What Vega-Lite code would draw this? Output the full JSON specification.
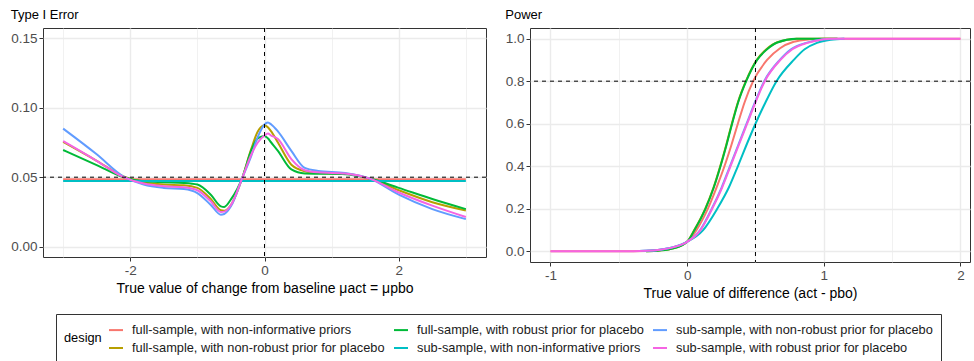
{
"$schema": "https://vega.github.io/schema/vega-lite/v6.json",
"padding": {"left": 10, "top": 8, "right": 0, "bottom": 0},
"config": {
  "font": "Liberation Sans",
  "view": {"stroke": "#333333", "strokeWidth": 1},
  "axis": {"labelFontSize": 13.5, "labelColor": "#4D4D4D", "titleFontSize": 14, "titleFontWeight": "normal", "titleColor": "#000000", "tickColor": "#333333", "tickSize": 4, "domain": false, "gridColor": "#EBEBEB", "labelPadding": 2, "titlePadding": 5, "labelFlush": false, "labelOverlap": false},
  "title": {"fontSize": 13, "fontWeight": "normal", "anchor": "start", "offset": 6, "color": "#000000"},
  "line": {"strokeWidth": 2, "interpolate": "monotone"}
},
"datasets": {
  "t1": [
    {"design": "full-sample, with non-informative priors", "x": -3, "y": 0.0485},
    {"design": "full-sample, with non-informative priors", "x": 3, "y": 0.0485},
    {"design": "full-sample, with non-robust prior for placebo", "x": -3, "y": 0.0754},
    {"design": "full-sample, with non-robust prior for placebo", "x": -2.5, "y": 0.0618},
    {"design": "full-sample, with non-robust prior for placebo", "x": -2.1, "y": 0.0505},
    {"design": "full-sample, with non-robust prior for placebo", "x": -1.8, "y": 0.0464},
    {"design": "full-sample, with non-robust prior for placebo", "x": -1.5, "y": 0.0447},
    {"design": "full-sample, with non-robust prior for placebo", "x": -1.2, "y": 0.0442},
    {"design": "full-sample, with non-robust prior for placebo", "x": -1, "y": 0.0423},
    {"design": "full-sample, with non-robust prior for placebo", "x": -0.8, "y": 0.0343},
    {"design": "full-sample, with non-robust prior for placebo", "x": -0.65, "y": 0.0262},
    {"design": "full-sample, with non-robust prior for placebo", "x": -0.6, "y": 0.0259},
    {"design": "full-sample, with non-robust prior for placebo", "x": -0.5, "y": 0.030},
    {"design": "full-sample, with non-robust prior for placebo", "x": -0.33, "y": 0.0497},
    {"design": "full-sample, with non-robust prior for placebo", "x": -0.2, "y": 0.070},
    {"design": "full-sample, with non-robust prior for placebo", "x": -0.1, "y": 0.083},
    {"design": "full-sample, with non-robust prior for placebo", "x": 0, "y": 0.0875},
    {"design": "full-sample, with non-robust prior for placebo", "x": 0.05, "y": 0.086},
    {"design": "full-sample, with non-robust prior for placebo", "x": 0.1, "y": 0.083},
    {"design": "full-sample, with non-robust prior for placebo", "x": 0.2, "y": 0.075},
    {"design": "full-sample, with non-robust prior for placebo", "x": 0.4, "y": 0.059},
    {"design": "full-sample, with non-robust prior for placebo", "x": 0.6, "y": 0.0543},
    {"design": "full-sample, with non-robust prior for placebo", "x": 0.8, "y": 0.053},
    {"design": "full-sample, with non-robust prior for placebo", "x": 1.2, "y": 0.0525},
    {"design": "full-sample, with non-robust prior for placebo", "x": 1.57, "y": 0.049},
    {"design": "full-sample, with non-robust prior for placebo", "x": 2, "y": 0.0406},
    {"design": "full-sample, with non-robust prior for placebo", "x": 2.5, "y": 0.032},
    {"design": "full-sample, with non-robust prior for placebo", "x": 3, "y": 0.026},
    {"design": "full-sample, with robust prior for placebo", "x": -3, "y": 0.0696},
    {"design": "full-sample, with robust prior for placebo", "x": -2.5, "y": 0.0587},
    {"design": "full-sample, with robust prior for placebo", "x": -2.1, "y": 0.050},
    {"design": "full-sample, with robust prior for placebo", "x": -1.8, "y": 0.047},
    {"design": "full-sample, with robust prior for placebo", "x": -1.5, "y": 0.0464},
    {"design": "full-sample, with robust prior for placebo", "x": -1.2, "y": 0.0459},
    {"design": "full-sample, with robust prior for placebo", "x": -1, "y": 0.0447},
    {"design": "full-sample, with robust prior for placebo", "x": -0.8, "y": 0.0374},
    {"design": "full-sample, with robust prior for placebo", "x": -0.65, "y": 0.029},
    {"design": "full-sample, with robust prior for placebo", "x": -0.6, "y": 0.0286},
    {"design": "full-sample, with robust prior for placebo", "x": -0.5, "y": 0.034},
    {"design": "full-sample, with robust prior for placebo", "x": -0.33, "y": 0.0497},
    {"design": "full-sample, with robust prior for placebo", "x": -0.2, "y": 0.069},
    {"design": "full-sample, with robust prior for placebo", "x": -0.1, "y": 0.078},
    {"design": "full-sample, with robust prior for placebo", "x": 0, "y": 0.0797},
    {"design": "full-sample, with robust prior for placebo", "x": 0.05, "y": 0.078},
    {"design": "full-sample, with robust prior for placebo", "x": 0.1, "y": 0.075},
    {"design": "full-sample, with robust prior for placebo", "x": 0.2, "y": 0.069},
    {"design": "full-sample, with robust prior for placebo", "x": 0.4, "y": 0.0556},
    {"design": "full-sample, with robust prior for placebo", "x": 0.6, "y": 0.0527},
    {"design": "full-sample, with robust prior for placebo", "x": 0.8, "y": 0.0525},
    {"design": "full-sample, with robust prior for placebo", "x": 1.2, "y": 0.0522},
    {"design": "full-sample, with robust prior for placebo", "x": 1.57, "y": 0.049},
    {"design": "full-sample, with robust prior for placebo", "x": 2, "y": 0.0423},
    {"design": "full-sample, with robust prior for placebo", "x": 2.5, "y": 0.0343},
    {"design": "full-sample, with robust prior for placebo", "x": 3, "y": 0.027},
    {"design": "sub-sample, with non-informative priors", "x": -3, "y": 0.0472},
    {"design": "sub-sample, with non-informative priors", "x": 3, "y": 0.0472},
    {"design": "sub-sample, with non-robust prior for placebo", "x": -3, "y": 0.085},
    {"design": "sub-sample, with non-robust prior for placebo", "x": -2.5, "y": 0.0665},
    {"design": "sub-sample, with non-robust prior for placebo", "x": -2.1, "y": 0.0505},
    {"design": "sub-sample, with non-robust prior for placebo", "x": -1.8, "y": 0.0447},
    {"design": "sub-sample, with non-robust prior for placebo", "x": -1.5, "y": 0.0423},
    {"design": "sub-sample, with non-robust prior for placebo", "x": -1.2, "y": 0.0415},
    {"design": "sub-sample, with non-robust prior for placebo", "x": -1, "y": 0.0386},
    {"design": "sub-sample, with non-robust prior for placebo", "x": -0.8, "y": 0.030},
    {"design": "sub-sample, with non-robust prior for placebo", "x": -0.65, "y": 0.023},
    {"design": "sub-sample, with non-robust prior for placebo", "x": -0.6, "y": 0.0235},
    {"design": "sub-sample, with non-robust prior for placebo", "x": -0.5, "y": 0.029},
    {"design": "sub-sample, with non-robust prior for placebo", "x": -0.33, "y": 0.0496},
    {"design": "sub-sample, with non-robust prior for placebo", "x": -0.2, "y": 0.065},
    {"design": "sub-sample, with non-robust prior for placebo", "x": -0.1, "y": 0.079},
    {"design": "sub-sample, with non-robust prior for placebo", "x": 0, "y": 0.088},
    {"design": "sub-sample, with non-robust prior for placebo", "x": 0.05, "y": 0.0894},
    {"design": "sub-sample, with non-robust prior for placebo", "x": 0.1, "y": 0.088},
    {"design": "sub-sample, with non-robust prior for placebo", "x": 0.2, "y": 0.083},
    {"design": "sub-sample, with non-robust prior for placebo", "x": 0.4, "y": 0.069},
    {"design": "sub-sample, with non-robust prior for placebo", "x": 0.6, "y": 0.0567},
    {"design": "sub-sample, with non-robust prior for placebo", "x": 0.8, "y": 0.0545},
    {"design": "sub-sample, with non-robust prior for placebo", "x": 1.2, "y": 0.053},
    {"design": "sub-sample, with non-robust prior for placebo", "x": 1.57, "y": 0.049},
    {"design": "sub-sample, with non-robust prior for placebo", "x": 2, "y": 0.0374},
    {"design": "sub-sample, with non-robust prior for placebo", "x": 2.5, "y": 0.027},
    {"design": "sub-sample, with non-robust prior for placebo", "x": 3, "y": 0.0198},
    {"design": "sub-sample, with robust prior for placebo", "x": -3, "y": 0.076},
    {"design": "sub-sample, with robust prior for placebo", "x": -2.5, "y": 0.0618},
    {"design": "sub-sample, with robust prior for placebo", "x": -2.1, "y": 0.050},
    {"design": "sub-sample, with robust prior for placebo", "x": -1.8, "y": 0.0454},
    {"design": "sub-sample, with robust prior for placebo", "x": -1.5, "y": 0.0435},
    {"design": "sub-sample, with robust prior for placebo", "x": -1.2, "y": 0.0428},
    {"design": "sub-sample, with robust prior for placebo", "x": -1, "y": 0.0406},
    {"design": "sub-sample, with robust prior for placebo", "x": -0.8, "y": 0.0326},
    {"design": "sub-sample, with robust prior for placebo", "x": -0.65, "y": 0.0249},
    {"design": "sub-sample, with robust prior for placebo", "x": -0.6, "y": 0.0252},
    {"design": "sub-sample, with robust prior for placebo", "x": -0.5, "y": 0.030},
    {"design": "sub-sample, with robust prior for placebo", "x": -0.33, "y": 0.0496},
    {"design": "sub-sample, with robust prior for placebo", "x": -0.2, "y": 0.066},
    {"design": "sub-sample, with robust prior for placebo", "x": -0.1, "y": 0.075},
    {"design": "sub-sample, with robust prior for placebo", "x": 0, "y": 0.080},
    {"design": "sub-sample, with robust prior for placebo", "x": 0.05, "y": 0.0814},
    {"design": "sub-sample, with robust prior for placebo", "x": 0.1, "y": 0.080},
    {"design": "sub-sample, with robust prior for placebo", "x": 0.2, "y": 0.0775},
    {"design": "sub-sample, with robust prior for placebo", "x": 0.4, "y": 0.063},
    {"design": "sub-sample, with robust prior for placebo", "x": 0.6, "y": 0.055},
    {"design": "sub-sample, with robust prior for placebo", "x": 0.8, "y": 0.0535},
    {"design": "sub-sample, with robust prior for placebo", "x": 1.2, "y": 0.0527},
    {"design": "sub-sample, with robust prior for placebo", "x": 1.57, "y": 0.049},
    {"design": "sub-sample, with robust prior for placebo", "x": 2, "y": 0.039},
    {"design": "sub-sample, with robust prior for placebo", "x": 2.5, "y": 0.0295},
    {"design": "sub-sample, with robust prior for placebo", "x": 3, "y": 0.0213}
  ],
  "pw": [
    {"design": "full-sample, with non-informative priors", "x": -1, "y": 0},
    {"design": "full-sample, with non-informative priors", "x": -0.5, "y": 0.0005},
    {"design": "full-sample, with non-informative priors", "x": -0.3, "y": 0.002},
    {"design": "full-sample, with non-informative priors", "x": -0.2, "y": 0.006},
    {"design": "full-sample, with non-informative priors", "x": -0.1, "y": 0.017},
    {"design": "full-sample, with non-informative priors", "x": 0, "y": 0.045},
    {"design": "full-sample, with non-informative priors", "x": 0.068, "y": 0.1},
    {"design": "full-sample, with non-informative priors", "x": 0.151, "y": 0.2},
    {"design": "full-sample, with non-informative priors", "x": 0.215, "y": 0.3},
    {"design": "full-sample, with non-informative priors", "x": 0.273, "y": 0.4},
    {"design": "full-sample, with non-informative priors", "x": 0.324, "y": 0.5},
    {"design": "full-sample, with non-informative priors", "x": 0.371, "y": 0.6},
    {"design": "full-sample, with non-informative priors", "x": 0.42, "y": 0.7},
    {"design": "full-sample, with non-informative priors", "x": 0.483, "y": 0.8},
    {"design": "full-sample, with non-informative priors", "x": 0.585, "y": 0.9},
    {"design": "full-sample, with non-informative priors", "x": 0.68, "y": 0.955},
    {"design": "full-sample, with non-informative priors", "x": 0.78, "y": 0.985},
    {"design": "full-sample, with non-informative priors", "x": 0.9, "y": 0.997},
    {"design": "full-sample, with non-informative priors", "x": 1.0, "y": 1.0},
    {"design": "full-sample, with non-informative priors", "x": 2, "y": 1.0},
    {"design": "full-sample, with non-robust prior for placebo", "x": -0.3, "y": 0.001},
    {"design": "full-sample, with non-robust prior for placebo", "x": -0.2, "y": 0.004},
    {"design": "full-sample, with non-robust prior for placebo", "x": -0.1, "y": 0.014},
    {"design": "full-sample, with non-robust prior for placebo", "x": 0, "y": 0.045},
    {"design": "full-sample, with non-robust prior for placebo", "x": 0.052, "y": 0.1},
    {"design": "full-sample, with non-robust prior for placebo", "x": 0.132, "y": 0.2},
    {"design": "full-sample, with non-robust prior for placebo", "x": 0.193, "y": 0.3},
    {"design": "full-sample, with non-robust prior for placebo", "x": 0.242, "y": 0.4},
    {"design": "full-sample, with non-robust prior for placebo", "x": 0.286, "y": 0.5},
    {"design": "full-sample, with non-robust prior for placebo", "x": 0.327, "y": 0.6},
    {"design": "full-sample, with non-robust prior for placebo", "x": 0.371, "y": 0.7},
    {"design": "full-sample, with non-robust prior for placebo", "x": 0.43, "y": 0.8},
    {"design": "full-sample, with non-robust prior for placebo", "x": 0.51, "y": 0.9},
    {"design": "full-sample, with non-robust prior for placebo", "x": 0.58, "y": 0.95},
    {"design": "full-sample, with non-robust prior for placebo", "x": 0.66, "y": 0.983},
    {"design": "full-sample, with non-robust prior for placebo", "x": 0.8, "y": 0.999},
    {"design": "full-sample, with non-robust prior for placebo", "x": 1.1, "y": 1.0},
    {"design": "full-sample, with robust prior for placebo", "x": -0.3, "y": 0.001},
    {"design": "full-sample, with robust prior for placebo", "x": -0.2, "y": 0.004},
    {"design": "full-sample, with robust prior for placebo", "x": -0.1, "y": 0.014},
    {"design": "full-sample, with robust prior for placebo", "x": 0, "y": 0.045},
    {"design": "full-sample, with robust prior for placebo", "x": 0.054, "y": 0.1},
    {"design": "full-sample, with robust prior for placebo", "x": 0.134, "y": 0.2},
    {"design": "full-sample, with robust prior for placebo", "x": 0.195, "y": 0.3},
    {"design": "full-sample, with robust prior for placebo", "x": 0.244, "y": 0.4},
    {"design": "full-sample, with robust prior for placebo", "x": 0.288, "y": 0.5},
    {"design": "full-sample, with robust prior for placebo", "x": 0.329, "y": 0.6},
    {"design": "full-sample, with robust prior for placebo", "x": 0.373, "y": 0.7},
    {"design": "full-sample, with robust prior for placebo", "x": 0.432, "y": 0.8},
    {"design": "full-sample, with robust prior for placebo", "x": 0.512, "y": 0.9},
    {"design": "full-sample, with robust prior for placebo", "x": 0.585, "y": 0.95},
    {"design": "full-sample, with robust prior for placebo", "x": 0.66, "y": 0.982},
    {"design": "full-sample, with robust prior for placebo", "x": 0.8, "y": 0.999},
    {"design": "full-sample, with robust prior for placebo", "x": 1.1, "y": 1.0},
    {"design": "sub-sample, with non-informative priors", "x": -0.35, "y": 0.002},
    {"design": "sub-sample, with non-informative priors", "x": -0.2, "y": 0.008},
    {"design": "sub-sample, with non-informative priors", "x": -0.1, "y": 0.02},
    {"design": "sub-sample, with non-informative priors", "x": 0, "y": 0.045},
    {"design": "sub-sample, with non-informative priors", "x": 0.117, "y": 0.1},
    {"design": "sub-sample, with non-informative priors", "x": 0.22, "y": 0.2},
    {"design": "sub-sample, with non-informative priors", "x": 0.305, "y": 0.3},
    {"design": "sub-sample, with non-informative priors", "x": 0.371, "y": 0.4},
    {"design": "sub-sample, with non-informative priors", "x": 0.434, "y": 0.5},
    {"design": "sub-sample, with non-informative priors", "x": 0.5, "y": 0.6},
    {"design": "sub-sample, with non-informative priors", "x": 0.573, "y": 0.7},
    {"design": "sub-sample, with non-informative priors", "x": 0.654, "y": 0.8},
    {"design": "sub-sample, with non-informative priors", "x": 0.78, "y": 0.9},
    {"design": "sub-sample, with non-informative priors", "x": 0.86, "y": 0.95},
    {"design": "sub-sample, with non-informative priors", "x": 0.95, "y": 0.98},
    {"design": "sub-sample, with non-informative priors", "x": 1.05, "y": 0.995},
    {"design": "sub-sample, with non-informative priors", "x": 1.15, "y": 1.0},
    {"design": "sub-sample, with non-robust prior for placebo", "x": -0.35, "y": 0.002},
    {"design": "sub-sample, with non-robust prior for placebo", "x": -0.2, "y": 0.008},
    {"design": "sub-sample, with non-robust prior for placebo", "x": -0.1, "y": 0.02},
    {"design": "sub-sample, with non-robust prior for placebo", "x": 0, "y": 0.045},
    {"design": "sub-sample, with non-robust prior for placebo", "x": 0.095, "y": 0.1},
    {"design": "sub-sample, with non-robust prior for placebo", "x": 0.18, "y": 0.2},
    {"design": "sub-sample, with non-robust prior for placebo", "x": 0.252, "y": 0.3},
    {"design": "sub-sample, with non-robust prior for placebo", "x": 0.313, "y": 0.4},
    {"design": "sub-sample, with non-robust prior for placebo", "x": 0.374, "y": 0.5},
    {"design": "sub-sample, with non-robust prior for placebo", "x": 0.435, "y": 0.6},
    {"design": "sub-sample, with non-robust prior for placebo", "x": 0.496, "y": 0.7},
    {"design": "sub-sample, with non-robust prior for placebo", "x": 0.564, "y": 0.8},
    {"design": "sub-sample, with non-robust prior for placebo", "x": 0.678, "y": 0.9},
    {"design": "sub-sample, with non-robust prior for placebo", "x": 0.76, "y": 0.95},
    {"design": "sub-sample, with non-robust prior for placebo", "x": 0.87, "y": 0.98},
    {"design": "sub-sample, with non-robust prior for placebo", "x": 1.0, "y": 0.997},
    {"design": "sub-sample, with non-robust prior for placebo", "x": 1.15, "y": 1.0},
    {"design": "sub-sample, with robust prior for placebo", "x": -1, "y": 0},
    {"design": "sub-sample, with robust prior for placebo", "x": -0.5, "y": 0.0005},
    {"design": "sub-sample, with robust prior for placebo", "x": -0.3, "y": 0.003},
    {"design": "sub-sample, with robust prior for placebo", "x": -0.2, "y": 0.008},
    {"design": "sub-sample, with robust prior for placebo", "x": -0.1, "y": 0.02},
    {"design": "sub-sample, with robust prior for placebo", "x": 0, "y": 0.045},
    {"design": "sub-sample, with robust prior for placebo", "x": 0.098, "y": 0.1},
    {"design": "sub-sample, with robust prior for placebo", "x": 0.183, "y": 0.2},
    {"design": "sub-sample, with robust prior for placebo", "x": 0.256, "y": 0.3},
    {"design": "sub-sample, with robust prior for placebo", "x": 0.317, "y": 0.4},
    {"design": "sub-sample, with robust prior for placebo", "x": 0.378, "y": 0.5},
    {"design": "sub-sample, with robust prior for placebo", "x": 0.439, "y": 0.6},
    {"design": "sub-sample, with robust prior for placebo", "x": 0.5, "y": 0.7},
    {"design": "sub-sample, with robust prior for placebo", "x": 0.568, "y": 0.8},
    {"design": "sub-sample, with robust prior for placebo", "x": 0.683, "y": 0.9},
    {"design": "sub-sample, with robust prior for placebo", "x": 0.77, "y": 0.95},
    {"design": "sub-sample, with robust prior for placebo", "x": 0.88, "y": 0.98},
    {"design": "sub-sample, with robust prior for placebo", "x": 0.98, "y": 0.995},
    {"design": "sub-sample, with robust prior for placebo", "x": 1.05, "y": 1.0},
    {"design": "sub-sample, with robust prior for placebo", "x": 2, "y": 1.0}
  ]
},
"spacing": 17,
"hconcat": [
  {
    "width": 443, "height": 229,
    "title": "Type I Error",
    "layer": [
      {
        "data": {"name": "t1"},
        "mark": {"type": "line"},
        "encoding": {
          "x": {"field": "x", "type": "quantitative", "scale": {"domain": [-3.3, 3.3], "nice": false, "zero": false},
            "axis": {"title": "True value of change from baseline μact = μpbo", "values": [-3, -2, -1, 0, 1, 2, 3],
              "labelExpr": "abs(datum.value) % 2 == 0 ? toString(datum.value) : ''",
              "gridWidth": {"condition": {"test": "abs(datum.value) % 2 == 0", "value": 1.4}, "value": 0.7},
              "tickOpacity": {"condition": {"test": "abs(datum.value) % 2 == 0", "value": 1}, "value": 0}}},
          "y": {"field": "y", "type": "quantitative", "scale": {"domain": [-0.0075, 0.1575], "nice": false, "zero": false},
            "axis": {"title": null, "values": [0, 0.025, 0.05, 0.075, 0.1, 0.125, 0.15],
              "labelExpr": "round(datum.value*1000) % 50 == 0 ? format(datum.value, '.2f') : ''",
              "gridWidth": {"condition": {"test": "round(datum.value*1000) % 50 == 0", "value": 1.4}, "value": 0.7},
              "tickOpacity": {"condition": {"test": "round(datum.value*1000) % 50 == 0", "value": 1}, "value": 0}}},
          "color": {"field": "design", "type": "nominal",
            "scale": {"domain": ["full-sample, with non-informative priors", "full-sample, with robust prior for placebo", "sub-sample, with non-robust prior for placebo", "full-sample, with non-robust prior for placebo", "sub-sample, with non-informative priors", "sub-sample, with robust prior for placebo"],
              "range": ["#F8766D", "#00BA38", "#619CFF", "#B79F00", "#00BFC4", "#F564E3"]},
            "legend": {"orient": "none", "legendX": 13, "legendY": 286, "direction": "horizontal", "columns": 3,
              "title": "design", "titleOrient": "left", "titleAnchor": "middle", "titleBaseline": "middle", "titleFontSize": 12.8, "titleFontWeight": "normal", "titleColor": "#000000", "titlePadding": 6,
              "strokeColor": "#333333", "padding": 8, "symbolType": "stroke", "symbolStrokeWidth": 2, "symbolSize": 196,
              "labelFontSize": 12.8, "labelColor": "#1A1A1A", "labelLimit": 400, "labelOffset": 8, "rowPadding": 3, "columnPadding": 5}}
        }
      },
      {
        "data": {"values": [{"v": 0.05}]},
        "mark": {"type": "rule", "color": "#000000", "strokeDash": [4, 4], "strokeWidth": 1},
        "encoding": {"y": {"field": "v", "type": "quantitative"}}
      },
      {
        "data": {"values": [{"v": 0}]},
        "mark": {"type": "rule", "color": "#000000", "strokeDash": [4, 4], "strokeWidth": 1},
        "encoding": {"x": {"field": "v", "type": "quantitative"}}
      }
    ]
  },
  {
    "width": 440, "height": 234,
    "title": "Power",
    "layer": [
      {
        "data": {"name": "pw"},
        "mark": {"type": "line"},
        "encoding": {
          "x": {"field": "x", "type": "quantitative", "scale": {"domain": [-1.15, 2.07], "nice": false, "zero": false},
            "axis": {"title": "True value of difference (act - pbo)", "values": [-1, -0.5, 0, 0.5, 1, 1.5, 2],
              "labelExpr": "datum.value == round(datum.value) ? toString(datum.value) : ''",
              "gridWidth": {"condition": {"test": "datum.value == round(datum.value)", "value": 1.4}, "value": 0.7},
              "tickOpacity": {"condition": {"test": "datum.value == round(datum.value)", "value": 1}, "value": 0}}},
          "y": {"field": "y", "type": "quantitative", "scale": {"domain": [-0.05, 1.05], "nice": false, "zero": false},
            "axis": {"title": null, "values": [0, 0.1, 0.2, 0.3, 0.4, 0.5, 0.6, 0.7, 0.8, 0.9, 1.0],
              "labelExpr": "round(datum.value*10) % 2 == 0 ? format(datum.value, '.1f') : ''",
              "gridWidth": {"condition": {"test": "round(datum.value*10) % 2 == 0", "value": 1.4}, "value": 0.7},
              "tickOpacity": {"condition": {"test": "round(datum.value*10) % 2 == 0", "value": 1}, "value": 0}}},
          "color": {"field": "design", "type": "nominal"}
        }
      },
      {
        "data": {"values": [{"v": 0.8}]},
        "mark": {"type": "rule", "color": "#000000", "strokeDash": [4, 4], "strokeWidth": 1},
        "encoding": {"y": {"field": "v", "type": "quantitative"}}
      },
      {
        "data": {"values": [{"v": 0.5}]},
        "mark": {"type": "rule", "color": "#000000", "strokeDash": [4, 4], "strokeWidth": 1},
        "encoding": {"x": {"field": "v", "type": "quantitative"}}
      }
    ]
  }
]
}
